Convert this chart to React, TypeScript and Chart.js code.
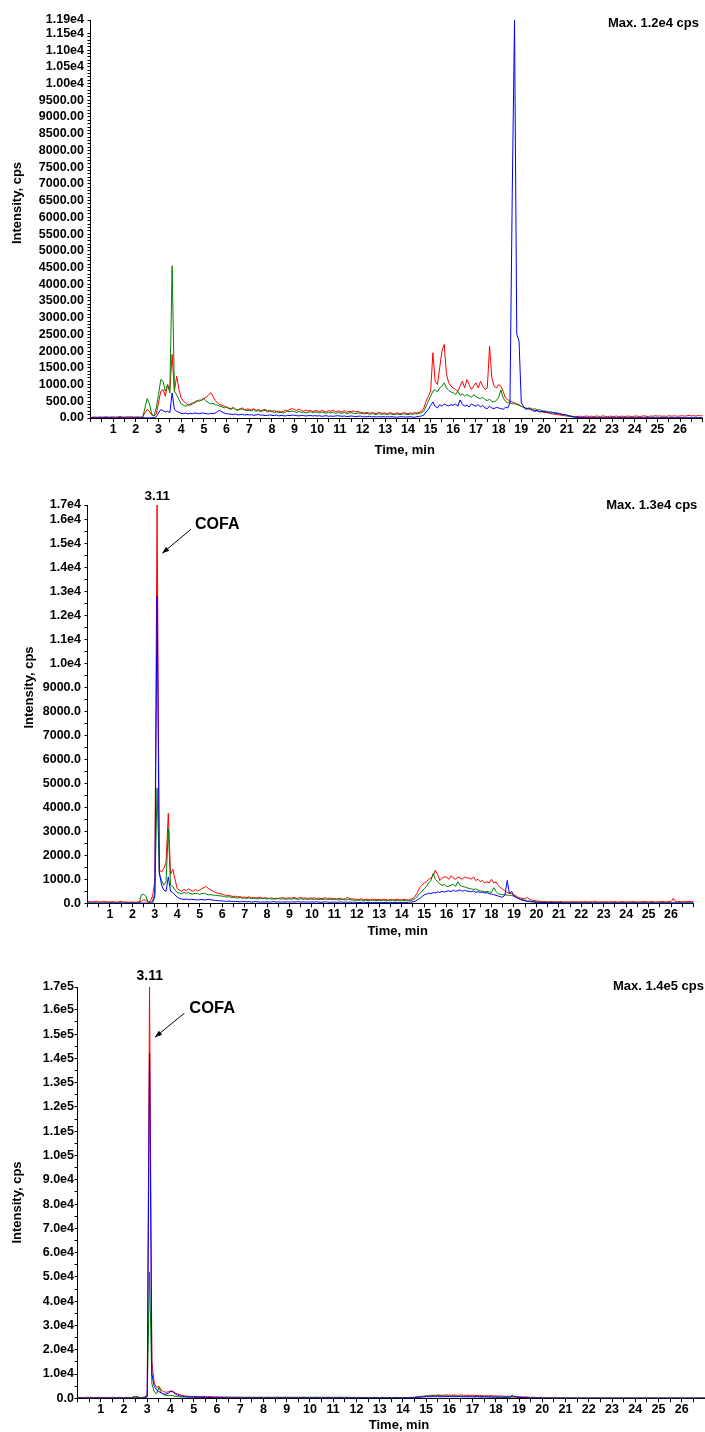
import React, { useEffect, useRef } from 'react';
import { Chart, registerables } from 'chart.js';

Chart.register(...registerables);

// ---------- shared time grid (min) ----------
const TIME: number[] = Array.from({ length: 271 }, (_, i) => i / 10);

// ---------- chart 1 ----------
const RED1 = [
20,25,30,20,35,25,30,40,25,30,
35,25,30,45,30,25,35,30,40,25,
30,35,25,40,150,260,200,90,60,120,
450,800,850,650,1000,850,1900,800,1250,850,
600,500,450,380,420,450,480,520,500,560,
580,620,680,760,650,520,450,400,380,350,
330,300,280,320,260,240,280,300,250,270,
260,240,280,230,250,220,240,260,210,230,
200,220,190,210,180,200,230,220,260,280,
250,230,270,220,200,240,210,230,190,220,
210,190,230,200,180,220,200,240,190,210,
200,180,220,170,200,190,210,180,200,170,
160,150,170,140,160,150,130,170,150,140,
150,130,160,140,120,150,140,130,160,140,
130,150,140,160,150,170,200,300,500,650,
800,1950,1100,1000,1500,2000,2200,1300,1050,950,
900,850,800,950,1100,900,1150,1000,850,950,
1050,900,1100,950,850,900,2150,1200,950,900,
1000,950,800,600,550,500,480,450,420,400,
350,320,300,280,250,240,220,210,200,180,
170,160,150,130,120,110,100,90,80,70,
60,50,60,40,50,45,55,40,50,60,
45,55,40,60,50,45,65,50,40,55,
50,45,60,40,55,50,45,60,50,45,
55,60,45,50,65,55,40,60,50,70,
55,65,50,60,45,70,55,60,65,50,
60,70,55,65,80,60,70,55,75,65,
70];
const GREEN1 = [
5,8,5,10,6,8,5,7,6,8,
6,5,8,7,5,6,8,5,7,6,
5,8,6,10,300,580,420,120,60,300,
700,1150,1100,800,980,750,4550,800,700,550,
420,380,350,400,380,420,460,500,540,520,
580,500,460,420,440,400,380,360,330,300,
320,280,260,300,250,230,270,260,240,220,
230,210,250,200,220,190,210,230,180,200,
190,170,180,160,170,150,180,200,190,210,
190,170,200,160,180,150,170,190,160,180,
170,150,180,160,140,170,150,180,140,160,
150,140,170,130,150,160,140,130,150,140,
130,120,140,110,130,120,100,130,110,120,
120,100,130,110,100,120,110,100,130,110,
100,120,110,130,120,140,160,200,350,500,
650,800,850,780,900,950,1050,900,820,780,
750,700,800,680,720,650,700,660,620,700,
640,600,580,620,550,520,560,500,480,520,
620,840,600,500,460,450,420,430,400,380,
350,320,290,270,300,260,280,240,250,220,
200,210,180,190,160,170,150,130,110,100,
80,60,40,25,15,10,8,6,5,6,
5,6,5,7,5,6,5,6,5,7,
5,6,5,7,5,6,5,6,5,7,
5,6,5,7,5,6,5,6,5,7,
5,6,5,7,5,6,5,6,5,7,
5,6,5,7,5,6,5,6,5,7,
5];
const BLUE1 = [
5,6,5,7,5,6,5,6,5,7,
5,6,5,7,5,6,5,6,5,7,
5,6,5,7,5,6,5,8,10,40,
150,250,220,180,200,160,750,260,200,170,
140,130,150,120,140,130,150,140,130,150,
140,130,120,140,130,150,190,230,180,150,
130,120,110,100,120,90,100,110,90,100,
90,100,80,90,110,80,90,70,80,90,
80,70,90,60,80,70,60,80,70,90,
80,70,60,80,70,60,70,80,60,70,
60,70,50,60,70,50,60,50,60,70,
60,50,60,40,50,60,50,40,50,60,
40,30,40,50,30,40,30,40,30,40,
30,40,30,40,30,20,30,40,30,30,
30,40,30,20,40,50,60,90,180,250,
380,480,350,300,400,350,420,380,360,400,
380,420,350,540,400,360,380,330,420,380,
350,400,330,380,300,280,350,300,280,320,
300,280,260,320,300,450,6700,11900,2500,2300,
450,350,250,300,280,220,200,230,180,200,
200,180,170,150,160,130,140,120,110,100,
90,70,50,40,30,20,15,10,8,6,
5,6,5,7,5,6,5,6,5,7,
5,6,5,7,5,6,5,6,5,7,
5,6,5,7,5,6,5,6,5,7,
5,6,5,7,5,6,5,6,5,7,
5,6,5,7,5,6,5,6,5,7,
5];

// ---------- chart 2 ----------
const RED2 = [
60,80,50,70,90,60,50,80,70,60,
50,70,60,40,60,80,50,60,40,50,
60,40,50,60,80,150,120,60,80,300,
900,16600,1400,1300,1450,1700,3750,1200,1420,1000,
600,550,500,580,520,600,550,500,580,520,
550,620,650,700,600,550,500,450,420,400,
380,350,320,340,300,280,300,260,280,250,
260,240,270,230,250,220,240,260,210,230,
220,200,230,190,210,200,220,240,200,220,
230,210,250,200,220,240,210,230,200,220,
210,230,200,220,190,210,230,200,220,190,
200,180,210,190,170,200,250,180,190,170,
170,160,180,150,170,160,140,170,160,150,
160,140,170,150,130,160,150,140,170,150,
140,160,150,130,170,200,300,450,650,750,
850,900,1000,1050,1150,1380,1200,950,1050,1100,
1100,1000,1150,1050,1000,1100,1050,1000,1100,1050,
1050,1000,1100,950,1000,900,950,850,900,850,
1000,850,900,750,650,600,500,450,420,400,
350,300,250,220,200,180,250,150,130,120,
100,90,80,70,80,60,70,80,60,70,
60,80,50,70,60,50,80,60,70,50,
70,60,80,50,70,60,90,60,50,70,
60,70,50,80,60,70,50,60,80,60,
50,70,60,80,60,50,70,60,80,70,
60,80,70,50,70,60,80,70,60,80,
70,200,60,80,70,60,90,70,80,70,
80];
const GREEN2 = [
10,8,12,10,9,11,10,8,12,10,
9,11,10,8,12,10,9,11,10,8,
12,10,9,10,350,380,300,50,20,100,
400,4800,1200,950,750,900,3100,750,700,550,
450,420,400,450,420,440,400,380,420,400,
380,400,420,380,350,360,340,330,320,310,
300,280,260,280,240,250,230,220,240,210,
220,200,230,190,210,200,180,210,190,200,
180,200,170,190,180,200,170,190,180,170,
190,170,200,180,160,190,170,180,160,180,
170,160,180,150,170,160,180,150,170,160,
150,160,140,170,150,140,160,150,140,130,
130,120,140,120,130,110,120,130,110,120,
120,110,130,100,120,110,130,100,120,110,
110,120,100,120,110,150,200,300,400,500,
600,700,850,950,1250,1000,900,800,750,780,
700,720,750,800,700,900,750,700,680,650,
620,600,580,600,550,520,500,480,500,470,
450,650,500,400,380,350,360,340,330,320,
300,250,200,180,150,120,100,90,80,70,
60,55,50,45,40,40,35,35,30,30,
30,25,25,20,20,20,15,15,15,15,
12,10,12,10,12,10,12,10,12,10,
12,10,12,10,12,10,12,10,12,10,
12,10,12,10,12,10,12,10,12,10,
12,10,12,10,12,10,12,10,12,10,
12,10,12,10,12,10,12,10,12,10,
10];
const BLUE2 = [
10,12,10,8,10,12,10,9,11,10,
10,12,10,8,10,12,10,9,11,10,
10,12,10,8,10,11,10,9,12,20,
300,12800,1300,760,550,500,1100,500,450,350,
250,200,180,160,180,150,170,160,150,140,
150,160,140,150,170,150,130,120,110,100,
100,90,80,90,80,70,80,70,60,70,
70,60,70,50,60,70,60,50,60,50,
60,50,60,70,50,60,50,60,50,60,
50,60,50,60,70,50,60,50,60,50,
60,50,60,50,40,50,60,50,40,50,
50,40,50,60,40,50,40,50,40,50,
40,30,40,50,30,40,30,40,30,40,
30,40,30,40,30,40,30,40,30,40,
30,40,30,40,50,60,80,150,200,280,
350,380,420,400,450,430,480,450,500,470,
500,520,480,550,500,530,560,500,540,510,
500,480,520,460,480,450,470,430,440,400,
380,360,330,300,280,250,350,950,400,500,
300,250,200,150,120,100,80,70,60,50,
40,35,30,30,25,25,20,20,20,20,
18,16,18,15,17,15,16,18,15,16,
15,17,15,16,18,15,16,15,17,15,
16,18,15,16,15,17,15,16,18,15,
16,15,17,15,16,18,15,16,15,17,
15,16,18,15,16,15,17,15,16,18,
15,16,15,17,15,16,18,15,16,15,
15];

// ---------- chart 3 ----------
const RED3 = [
300,400,350,300,450,350,400,300,350,400,
350,300,400,350,300,450,350,300,400,350,
300,350,400,300,350,400,350,300,400,600,
1500,169400,15000,6300,4500,5000,3500,2800,2500,2600,
3000,3000,2200,1800,1500,1200,1000,900,800,800,
750,800,700,750,800,700,650,700,650,600,
600,550,600,500,550,500,450,500,450,500,
450,500,400,450,500,400,450,400,450,500,
400,450,500,400,450,400,500,450,400,450,
500,400,450,500,400,450,400,500,450,400,
450,400,500,450,400,450,400,450,500,400,
400,450,400,500,450,400,450,400,350,400,
350,400,350,300,400,350,300,350,400,350,
300,350,400,300,350,300,350,400,300,350,
300,350,300,400,350,500,600,700,800,900,
1000,1100,1200,1300,1200,1400,1300,1200,1300,1400,
1300,1200,1400,1300,1200,1400,1300,1200,1300,1200,
1300,1200,1100,1200,1100,1000,1100,1000,1100,1000,
1000,900,1000,900,800,900,800,700,800,700,
600,700,500,600,500,400,500,400,300,400,
300,250,300,200,250,200,250,200,150,200,
150,200,150,100,150,100,150,100,150,100,
150,100,150,120,100,150,100,130,100,150,
100,150,120,100,150,100,130,100,150,100,
120,100,150,100,130,100,150,100,120,150,
100,130,100,150,100,120,150,100,130,100,
150,100,120,150,100,130,100,150,100,120,
100];
const GREEN3 = [
100,120,100,80,110,100,90,110,100,120,
100,90,110,100,120,100,80,110,100,90,
110,100,90,120,700,800,700,100,150,200,
800,52000,6000,2700,1800,4500,2500,1500,1200,1100,
1200,1100,800,700,600,550,500,500,450,450,
450,400,450,400,350,400,350,300,350,300,
300,350,300,250,300,250,300,250,300,250,
250,300,250,200,250,300,250,200,250,300,
250,200,250,300,250,200,250,300,250,200,
300,250,200,250,300,250,200,250,300,250,
250,200,250,300,250,200,250,200,300,250,
200,250,300,250,200,250,200,250,200,250,
200,250,200,250,200,250,200,250,200,250,
200,250,200,250,200,250,200,250,200,250,
250,200,250,200,250,300,400,500,600,700,
800,900,1000,1100,1000,1100,1000,900,1000,900,
900,1000,900,850,900,800,850,800,850,800,
800,750,800,700,750,700,650,700,650,600,
600,650,600,550,500,550,500,450,500,450,
400,350,300,250,200,200,150,150,100,100,
80,100,80,90,80,100,80,90,80,100,
80,90,80,100,80,90,80,100,80,90,
80,100,80,90,80,100,80,90,80,100,
80,90,80,100,80,90,80,100,80,90,
80,100,80,90,80,100,80,90,80,100,
80,90,80,100,80,90,80,100,80,90,
80,100,80,90,80,100,80,90,80,100,
80];
const BLUE3 = [
50,60,50,40,50,60,50,40,50,60,
50,40,50,60,50,40,50,60,50,40,
50,60,50,40,50,60,50,40,50,300,
500,142000,10000,5000,3500,2800,2200,1800,1700,2000,
2800,2700,1800,1300,1000,800,700,600,550,500,
500,450,450,400,400,350,350,300,300,300,
250,250,250,200,200,200,200,150,150,150,
150,120,150,100,120,150,100,120,150,100,
120,150,100,120,150,100,120,100,150,120,
100,120,150,100,120,100,150,120,100,120,
100,150,120,100,120,100,150,100,120,100,
100,120,100,150,100,120,100,100,120,100,
100,80,100,120,80,100,80,100,120,80,
100,80,100,120,80,100,80,100,120,80,
100,100,120,150,200,300,400,500,550,600,
600,650,600,700,650,700,650,700,650,700,
700,650,700,650,700,650,600,650,600,650,
600,550,600,550,500,550,500,450,500,450,
450,400,450,400,350,400,450,1200,700,500,
400,300,250,200,150,120,100,80,70,60,
50,50,50,50,50,50,50,50,50,50,
50,50,50,50,50,50,50,50,50,50,
50,50,50,50,50,50,50,50,50,50,
50,50,50,50,50,50,50,50,50,50,
50,50,50,50,50,50,50,50,50,50,
50,50,50,50,50,50,50,50,50,50,
50,50,50,50,50,50,50,50,50,50,
50];

// ---------- ticks ----------
const X_MAX = 27;
const X_TICK_VALUES = [1,2,3,4,5,6,7,8,9,10,11,12,13,14,15,16,17,18,19,20,21,22,23,24,25,26];
const X_TICK_LABELS = ['1','2','3','4','5','6','7','8','9','10','11','12','13','14','15','16','17','18','19','20','21','22','23','24','25','26'];
const X_MINOR = 0.5;

const Y1_MAX = 11900;
const Y1_MINOR = 100;
const Y1_TICK_VALUES = [0,500,1000,1500,2000,2500,3000,3500,4000,4500,5000,5500,6000,6500,7000,7500,8000,8500,9000,9500,10000,10500,11000,11500,11900];
const Y1_TICK_LABELS = ['0.00','500.00','1000.00','1500.00','2000.00','2500.00','3000.00','3500.00','4000.00','4500.00','5000.00','5500.00','6000.00','6500.00','7000.00','7500.00','8000.00','8500.00','9000.00','9500.00','1.00e4','1.05e4','1.10e4','1.15e4','1.19e4'];

const Y2_MAX = 16600;
const Y2_MINOR = 500;
const Y2_TICK_VALUES = [0,1000,2000,3000,4000,5000,6000,7000,8000,9000,10000,11000,12000,13000,14000,15000,16000,16600];
const Y2_TICK_LABELS = ['0.0','1000.0','2000.0','3000.0','4000.0','5000.0','6000.0','7000.0','8000.0','9000.0','1.0e4','1.1e4','1.2e4','1.3e4','1.4e4','1.5e4','1.6e4','1.7e4'];

const Y3_MAX = 169400;
const Y3_MINOR = 5000;
const Y3_TICK_VALUES = [0,10000,20000,30000,40000,50000,60000,70000,80000,90000,100000,110000,120000,130000,140000,150000,160000,169400];
const Y3_TICK_LABELS = ['0.0','1.0e4','2.0e4','3.0e4','4.0e4','5.0e4','6.0e4','7.0e4','8.0e4','9.0e4','1.0e5','1.1e5','1.2e5','1.3e5','1.4e5','1.5e5','1.6e5','1.7e5'];

const COLORS = { red: 'rgb(255,0,0)', green: 'rgb(0,128,0)', blue: 'rgb(0,0,255)' };
const FONT = '"Liberation Sans", Arial, Helvetica, sans-serif';

function tickList(max: number, minor: number, majors: number[]): number[] {
  const s = new Set<number>(majors);
  for (let v = 0; v <= max + 1e-9; v += minor) s.add(Math.round(v * 1000) / 1000);
  return Array.from(s).sort((a, b) => a - b);
}

const annotPlugin = {
  id: 'annot',
  afterDraw(chart: any, _args: any, o: any) {
    const ctx = chart.ctx as CanvasRenderingContext2D;
    const xs = chart.scales.x;
    const ys = chart.scales.y;
    ctx.save();
    ctx.fillStyle = '#000';
    ctx.strokeStyle = '#000';
    ctx.textBaseline = 'middle';
    // y title
    ctx.save();
    ctx.translate(o.yTitle[0], o.yTitle[1]);
    ctx.rotate(-Math.PI / 2);
    ctx.font = `bold 13px ${FONT}`;
    ctx.textAlign = 'center';
    ctx.fillText('Intensity, cps', 0, 0);
    ctx.restore();
    // x title
    ctx.font = `bold 13px ${FONT}`;
    ctx.textAlign = 'center';
    ctx.fillText('Time, min', o.xTitle[0], o.xTitle[1]);
    // max text
    ctx.textAlign = 'right';
    ctx.fillText(o.maxText, o.maxPos[0], o.maxPos[1]);
    if (o.peak) {
      const p = o.peak;
      ctx.font = `bold ${p.size}px ${FONT}`;
      ctx.textAlign = 'center';
      ctx.fillText(p.text, xs.getPixelForValue(p.x), p.y);
      const tx = xs.getPixelForValue(p.tip[0]);
      const ty = ys.getPixelForValue(p.tip[1]);
      const sx = xs.getPixelForValue(p.tail[0]);
      const sy = ys.getPixelForValue(p.tail[1]);
      ctx.lineWidth = 1;
      ctx.beginPath();
      ctx.moveTo(sx, sy);
      ctx.lineTo(tx, ty);
      ctx.stroke();
      const ang = Math.atan2(ty - sy, tx - sx);
      const L = 7, W = 2.6;
      ctx.beginPath();
      ctx.moveTo(tx, ty);
      ctx.lineTo(tx - L * Math.cos(ang) + W * Math.sin(ang), ty - L * Math.sin(ang) - W * Math.cos(ang));
      ctx.lineTo(tx - L * Math.cos(ang) - W * Math.sin(ang), ty - L * Math.sin(ang) + W * Math.cos(ang));
      ctx.closePath();
      ctx.fill();
      ctx.font = `bold ${p.nameSize}px ${FONT}`;
      ctx.textAlign = 'left';
      ctx.fillText(p.name, xs.getPixelForValue(p.nameAt[0]), ys.getPixelForValue(p.nameAt[1]));
    }
    ctx.restore();
  },
};

type Cfg = {
  top: number;
  height: number;
  padTop: number;
  padRight: number;
  yWidth: number;
  areaBottom: number;
  yMax: number;
  yMinor: number;
  yTickValues: number[];
  yTickLabels: string[];
  yTickPad: number;
  red: number[];
  green: number[];
  blue: number[];
  annot: any;
};

const CHARTS: Cfg[] = [
  {
    top: 0, height: 465, padTop: 20, padRight: 2.3, yWidth: 90.5, areaBottom: 418,
    yMax: Y1_MAX, yMinor: Y1_MINOR, yTickValues: Y1_TICK_VALUES, yTickLabels: Y1_TICK_LABELS, yTickPad: 3.5,
    red: RED1, green: GREEN1, blue: BLUE1,
    annot: { yTitle: [17, 203], xTitle: [404.7, 450], maxText: 'Max. 1.2e4 cps', maxPos: [699, 23] },
  },
  {
    top: 465, height: 475, padTop: 40, padRight: 11.5, yWidth: 87.5, areaBottom: 438.3,
    yMax: Y2_MAX, yMinor: Y2_MINOR, yTickValues: Y2_TICK_VALUES, yTickLabels: Y2_TICK_LABELS, yTickPad: 3.5,
    red: RED2, green: GREEN2, blue: BLUE2,
    annot: {
      yTitle: [29, 222.5], xTitle: [397.6, 466], maxText: 'Max. 1.3e4 cps', maxPos: [697.3, 40.7],
      peak: { text: '3.11', x: 3.11, y: 31.7, size: 13.5, tip: [3.333, 14590], tail: [4.61, 15590], name: 'COFA', nameAt: [4.79, 15770], nameSize: 16 },
    },
  },
  {
    top: 940, height: 492, padTop: 47, padRight: 0, yWidth: 77.5, areaBottom: 458.3,
    yMax: Y3_MAX, yMinor: Y3_MINOR, yTickValues: Y3_TICK_VALUES, yTickLabels: Y3_TICK_LABELS, yTickPad: 0.5,
    red: RED3, green: GREEN3, blue: BLUE3,
    annot: {
      yTitle: [17.3, 262.5], xTitle: [399, 485], maxText: 'Max. 1.4e5 cps', maxPos: [704, 46.7],
      peak: { text: '3.11', x: 3.11, y: 35.7, size: 14, tip: [3.335, 148700], tail: [4.595, 158600], name: 'COFA', nameAt: [4.81, 160600], nameSize: 16.5 },
    },
  },
];

function toPoints(vals: number[]) {
  return TIME.map((t, i) => ({ x: t, y: vals[i] }));
}

function ChromChart({ cfg }: { cfg: Cfg }) {
  const ref = useRef<HTMLCanvasElement>(null);
  useEffect(() => {
    if (!ref.current) return;
    const xTicks = tickList(X_MAX, X_MINOR, X_TICK_VALUES);
    const yTicks = tickList(cfg.yTickValues[cfg.yTickValues.length - 2], cfg.yMinor, cfg.yTickValues);
    const tickFont = { family: FONT, size: 12.5, weight: 'bold' as const, lineHeight: 1.2 };
    const mk = (label: string, vals: number[], color: string) => ({
      label,
      data: toPoints(vals),
      borderColor: color,
      backgroundColor: color,
      borderWidth: 1,
      pointRadius: 0,
      tension: 0,
      fill: false,
    });
    const chart = new Chart(ref.current, {
      type: 'line',
      data: {
        datasets: [
          mk('blue', cfg.blue, COLORS.blue),
          mk('green', cfg.green, COLORS.green),
          mk('red', cfg.red, COLORS.red),
        ],
      },
      options: {
        animation: false,
        responsive: false,
        devicePixelRatio: 1,
        events: [],
        layout: { padding: { top: cfg.padTop, right: cfg.padRight, bottom: 0, left: 0 } },
        plugins: {
          legend: { display: false },
          tooltip: { enabled: false },
          annot: cfg.annot,
        } as any,
        scales: {
          x: {
            type: 'linear',
            min: 0,
            max: X_MAX,
            afterFit: (s: any) => { s.height = cfg.height - cfg.areaBottom; },
            afterBuildTicks: (s: any) => { s.ticks = xTicks.map((v) => ({ value: v })); },
            ticks: {
              autoSkip: false,
              maxRotation: 0,
              minRotation: 0,
              padding: 0,
              color: '#000',
              font: tickFont,
              callback: (v: any) => {
                const i = X_TICK_VALUES.indexOf(Number(v));
                return i >= 0 ? X_TICK_LABELS[i] : '';
              },
            },
            grid: { drawOnChartArea: false, drawTicks: true, tickLength: 4, color: '#000', lineWidth: 1 },
            border: { display: true, color: '#000', width: 1 },
          },
          y: {
            type: 'linear',
            min: 0,
            max: cfg.yMax,
            afterFit: (s: any) => { s.width = cfg.yWidth; },
            afterBuildTicks: (s: any) => { s.ticks = yTicks.map((v) => ({ value: v })); },
            ticks: {
              autoSkip: false,
              padding: cfg.yTickPad,
              color: '#000',
              font: tickFont,
              callback: (v: any) => {
                const i = cfg.yTickValues.indexOf(Number(v));
                return i >= 0 ? cfg.yTickLabels[i] : '';
              },
            },
            grid: { drawOnChartArea: false, drawTicks: true, tickLength: 3, color: '#000', lineWidth: 1 },
            border: { display: true, color: '#000', width: 1 },
          },
        },
      } as any,
      plugins: [annotPlugin],
    });
    return () => chart.destroy();
  }, [cfg]);
  return (
    <canvas
      ref={ref}
      width={705}
      height={cfg.height}
      style={{ position: 'absolute', left: 0, top: cfg.top, width: 705, height: cfg.height, display: 'block' }}
    />
  );
}

export default function App() {
  return (
    <div style={{ position: 'absolute', left: 0, top: 0, width: 705, height: 1432, overflow: 'hidden', background: '#fff' }}>
      {CHARTS.map((c, i) => (
        <ChromChart key={i} cfg={c} />
      ))}
    </div>
  );
}
